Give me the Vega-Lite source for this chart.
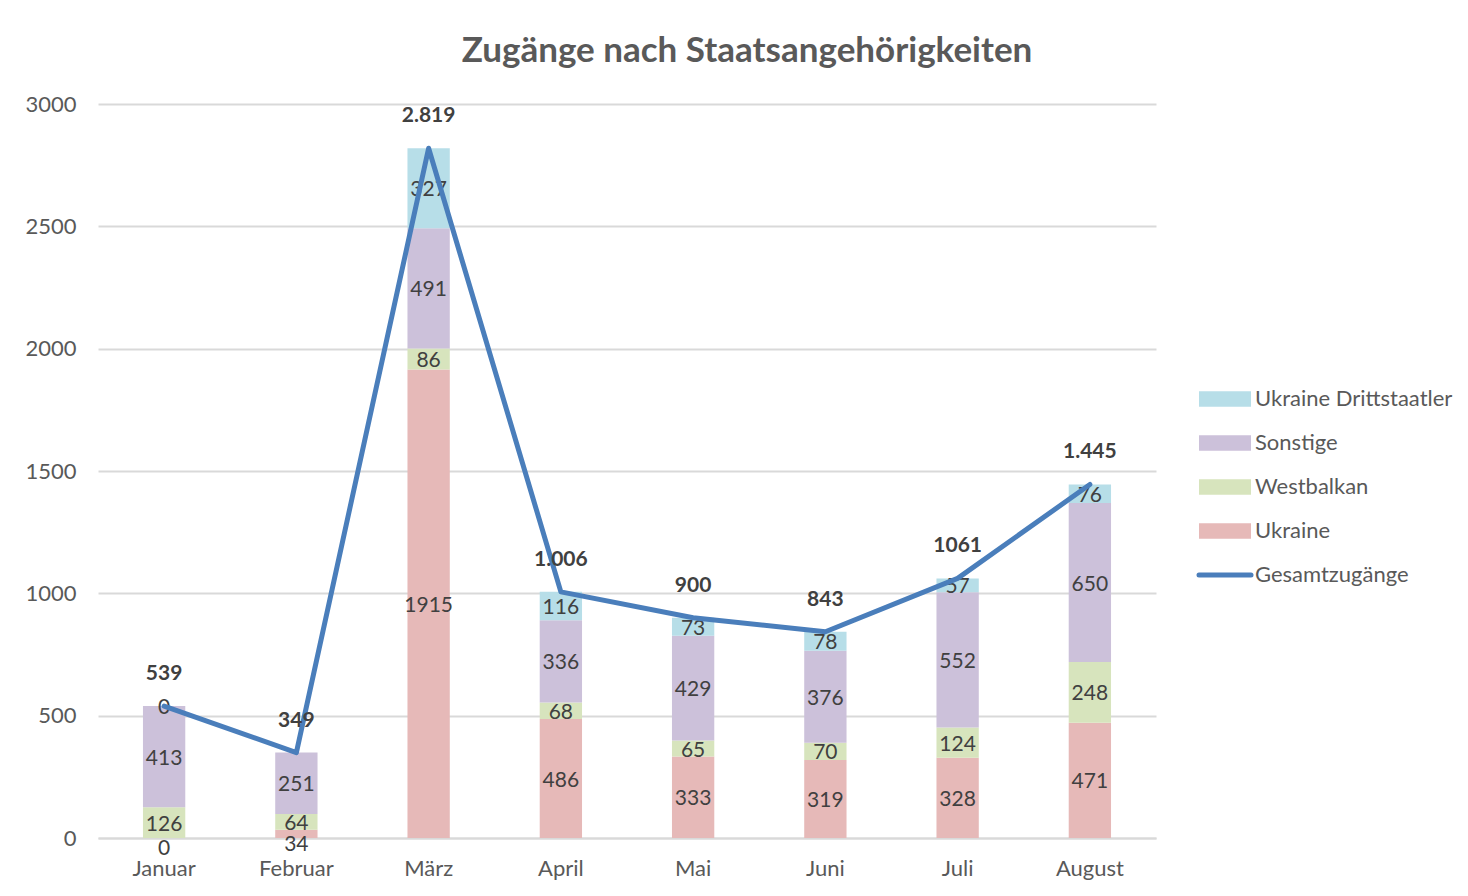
{
  "$schema": "https://vega.github.io/schema/vega-lite/v6.json",
  "width": 1058,
  "height": 734,
  "autosize": {"type": "none"},
  "padding": {"left": 98, "top": 104, "right": 312, "bottom": 58},
  "background": "white",
  "config": {"view": {"stroke": null}},
  "title": {
    "text": "Zugänge nach Staatsangehörigkeiten",
    "anchor": "middle",
    "frame": "bounds",
    "fontSize": 35,
    "font": "Lato",
    "fontWeight": "bold",
    "color": "#595959",
    "offset": 24,
    "dx": 8
  },
  "datasets": {
    "teile": [
      {"Monat": "Januar", "Kategorie": "Ukraine", "Wert": 0},
      {"Monat": "Januar", "Kategorie": "Westbalkan", "Wert": 126},
      {"Monat": "Januar", "Kategorie": "Sonstige", "Wert": 413},
      {"Monat": "Januar", "Kategorie": "Ukraine Drittstaatler", "Wert": 0},
      {"Monat": "Februar", "Kategorie": "Ukraine", "Wert": 34},
      {"Monat": "Februar", "Kategorie": "Westbalkan", "Wert": 64},
      {"Monat": "Februar", "Kategorie": "Sonstige", "Wert": 251},
      {"Monat": "März", "Kategorie": "Ukraine", "Wert": 1915},
      {"Monat": "März", "Kategorie": "Westbalkan", "Wert": 86},
      {"Monat": "März", "Kategorie": "Sonstige", "Wert": 491},
      {"Monat": "März", "Kategorie": "Ukraine Drittstaatler", "Wert": 327},
      {"Monat": "April", "Kategorie": "Ukraine", "Wert": 486},
      {"Monat": "April", "Kategorie": "Westbalkan", "Wert": 68},
      {"Monat": "April", "Kategorie": "Sonstige", "Wert": 336},
      {"Monat": "April", "Kategorie": "Ukraine Drittstaatler", "Wert": 116},
      {"Monat": "Mai", "Kategorie": "Ukraine", "Wert": 333},
      {"Monat": "Mai", "Kategorie": "Westbalkan", "Wert": 65},
      {"Monat": "Mai", "Kategorie": "Sonstige", "Wert": 429},
      {"Monat": "Mai", "Kategorie": "Ukraine Drittstaatler", "Wert": 73},
      {"Monat": "Juni", "Kategorie": "Ukraine", "Wert": 319},
      {"Monat": "Juni", "Kategorie": "Westbalkan", "Wert": 70},
      {"Monat": "Juni", "Kategorie": "Sonstige", "Wert": 376},
      {"Monat": "Juni", "Kategorie": "Ukraine Drittstaatler", "Wert": 78},
      {"Monat": "Juli", "Kategorie": "Ukraine", "Wert": 328},
      {"Monat": "Juli", "Kategorie": "Westbalkan", "Wert": 124},
      {"Monat": "Juli", "Kategorie": "Sonstige", "Wert": 552},
      {"Monat": "Juli", "Kategorie": "Ukraine Drittstaatler", "Wert": 57},
      {"Monat": "August", "Kategorie": "Ukraine", "Wert": 471},
      {"Monat": "August", "Kategorie": "Westbalkan", "Wert": 248},
      {"Monat": "August", "Kategorie": "Sonstige", "Wert": 650},
      {"Monat": "August", "Kategorie": "Ukraine Drittstaatler", "Wert": 76}
    ],
    "gesamt": [
      {"Monat": "Januar", "Gesamt": 539, "Label": "539"},
      {"Monat": "Februar", "Gesamt": 349, "Label": "349"},
      {"Monat": "März", "Gesamt": 2819, "Label": "2.819"},
      {"Monat": "April", "Gesamt": 1006, "Label": "1.006"},
      {"Monat": "Mai", "Gesamt": 900, "Label": "900"},
      {"Monat": "Juni", "Gesamt": 843, "Label": "843"},
      {"Monat": "Juli", "Gesamt": 1061, "Label": "1061"},
      {"Monat": "August", "Gesamt": 1445, "Label": "1.445"}
    ]
  },
  "encoding": {
    "x": {
      "field": "Monat",
      "type": "nominal",
      "sort": ["Januar", "Februar", "März", "April", "Mai", "Juni", "Juli", "August"],
      "scale": {"paddingInner": 0.68, "paddingOuter": 0.34},
      "axis": {
        "title": null,
        "labelAngle": 0,
        "labelFont": "Lato",
        "labelFontSize": 22,
        "labelColor": "#595959",
        "labelPadding": 20,
        "ticks": false,
        "domainColor": "#d9d9d9",
        "domainWidth": 2
      }
    }
  },
  "layer": [
    {
      "data": {"name": "teile"},
      "transform": [
        {"calculate": "indexof(['Ukraine','Westbalkan','Sonstige','Ukraine Drittstaatler'], datum.Kategorie)", "as": "pos"},
        {"stack": "Wert", "groupby": ["Monat"], "sort": [{"field": "pos", "order": "ascending"}], "as": ["y0", "y1"]},
        {"calculate": "(datum.y0 + datum.y1) / 2", "as": "mitte"}
      ],
      "layer": [
        {
          "mark": {"type": "bar"},
          "encoding": {
            "y": {
              "field": "y0",
              "type": "quantitative",
              "scale": {"domain": [0, 3000], "nice": false},
              "axis": {
                "title": null,
                "values": [0, 500, 1000, 1500, 2000, 2500, 3000],
                "format": "d",
                "labelFont": "Lato",
                "labelFontSize": 22,
                "labelColor": "#595959",
                "labelPadding": 22,
                "ticks": false,
                "domain": false,
                "gridColor": "#d9d9d9",
                "gridWidth": 2
              }
            },
            "y2": {"field": "y1"},
            "color": {
              "field": "Kategorie",
              "type": "nominal",
              "scale": {
                "domain": ["Ukraine Drittstaatler", "Sonstige", "Westbalkan", "Ukraine", "Gesamtzugänge"],
                "range": ["#B7DEE8", "#CCC1DA", "#D7E4BD", "#E6B9B8", "#4A7EBB"]
              },
              "legend": {
                "title": null,
                "orient": "none",
                "legendX": 1116,
                "legendY": 284,
                "labelFont": "Lato",
                "labelFontSize": 22,
                "labelColor": "#595959",
                "labelLimit": 400,
                "rowPadding": 22,
                "labelOffset": 19,
                "symbolSize": 2704,
                "symbolOffset": 0,
                "encode": {
                  "symbols": {
                    "update": {
                      "shape": {"signal": "datum.value === 'Gesamtzugänge' ? 'M-1,0H1' : 'M-1,-0.3H1V0.3H-1Z'"},
                      "size": {"value": 2704},
                      "fill": {"signal": "datum.value === 'Gesamtzugänge' ? 'transparent' : scale('color', datum.value)"},
                      "stroke": {"signal": "scale('color', datum.value)"},
                      "strokeWidth": {"signal": "datum.value === 'Gesamtzugänge' ? 5 : 0"},
                      "strokeCap": {"value": "round"},
                      "opacity": {"value": 1}
                    }
                  }
                }
              }
            }
          }
        },
        {
          "transform": [{"filter": "!(datum.Kategorie === 'Ukraine' && datum.Wert < 50)"}],
          "mark": {"type": "text", "font": "Lato", "fontSize": 21, "color": "#404040", "baseline": "middle", "dy": 2},
          "encoding": {
            "y": {"field": "mitte", "type": "quantitative"},
            "text": {"field": "Wert", "type": "quantitative", "format": "d"}
          }
        },
        {
          "transform": [{"filter": "datum.Kategorie === 'Ukraine' && datum.Wert < 50"}],
          "mark": {"type": "text", "font": "Lato", "fontSize": 21, "color": "#404040", "baseline": "middle", "dy": 11},
          "encoding": {
            "y": {"field": "mitte", "type": "quantitative"},
            "text": {"field": "Wert", "type": "quantitative", "format": "d"}
          }
        }
      ]
    },
    {
      "data": {"name": "gesamt"},
      "layer": [
        {
          "mark": {"type": "line", "strokeWidth": 5, "strokeJoin": "round", "strokeCap": "round"},
          "encoding": {
            "y": {"field": "Gesamt", "type": "quantitative"},
            "color": {"datum": "Gesamtzugänge"}
          }
        },
        {
          "mark": {"type": "text", "font": "Lato", "fontSize": 21, "fontWeight": "bold", "color": "#404040", "baseline": "middle", "dy": -32},
          "encoding": {
            "y": {"field": "Gesamt", "type": "quantitative"},
            "text": {"field": "Label"}
          }
        }
      ]
    }
  ]
}
